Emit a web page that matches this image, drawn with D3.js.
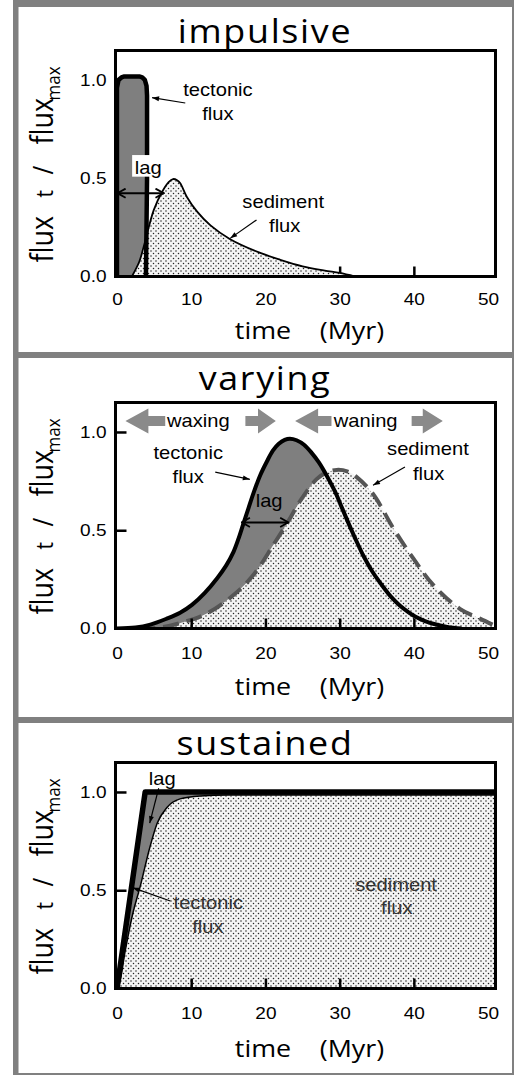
<!DOCTYPE html>
<html><head><meta charset="utf-8">
<script src="https://cdn.jsdelivr.net/npm/d3@7"></script>
<style>
html,body{margin:0;padding:0;background:#fff;}
svg{display:block;}
</style></head><body>
<script>
// ---------------- DATA ----------------
const panelTitles = ["impulsive", "varying", "sustained"];
const xTicks = [0, 10, 20, 30, 40, 50];
const yTicks = [0, 0.5, 1.0];
const yTickLabels = ["0.0", "0.5", "1.0"];
const xAxisTitle = ["time", "(Myr)"];

// impulsive
const impTectonicT = [0, 0, 0.2, 0.6, 1.0, 2.0, 3.0, 3.4, 3.75, 3.98, 4.05, 4.05, 3.9];
const impTectonicV = [0, 0.96, 1.0, 1.013, 1.018, 1.018, 1.018, 1.013, 1.0, 0.97, 0.92, 0.5, 0];
const impSedimentT = [2.0, 3.0, 3.6, 4.95, 6.07, 6.96, 7.55, 8.1, 8.53, 9.4, 10.8, 12.6, 15.25, 19.3, 22, 25, 28, 30, 32.1];
const impSedimentV = [0, 0.075, 0.152, 0.338, 0.43, 0.48, 0.496, 0.49, 0.474, 0.406, 0.33, 0.26, 0.19, 0.12, 0.085, 0.052, 0.03, 0.018, 0];

// varying
const varTectonicT = [0, 2.5, 4.5, 6.7, 8.5, 10.1, 11.8, 13.5, 14.7, 15.7, 16.4, 17.0, 17.7, 18.4, 19.3, 20.2, 21.0, 21.8, 22.6, 23.3,
  24.2, 25.2, 26.2, 27.2, 28.3, 29.4, 30.3, 31.2, 32.2, 33.2, 34.4, 35.9, 37.0, 38.1, 39.2, 40.3, 41.5, 42.6, 44.5, 46.4];
const varTectonicV = [0, 0.005, 0.02, 0.05, 0.08, 0.12, 0.18, 0.256, 0.32, 0.39, 0.46, 0.53, 0.61, 0.69, 0.78, 0.85, 0.905, 0.94, 0.96, 0.966,
  0.958, 0.935, 0.895, 0.845, 0.775, 0.695, 0.615, 0.535, 0.45, 0.37, 0.29, 0.21, 0.158, 0.117, 0.085, 0.058, 0.038, 0.024, 0.008, 0];
const varSedimentT = [3, 5.8, 9.0, 12.1, 15.7, 18.4, 21.1, 23.1, 24.7, 26.9, 28.3, 29.6, 31, 32.3, 34.5, 37.2, 39.9, 42.6, 46.2, 48.9, 50.6];
const varSedimentV = [0, 0.005, 0.033, 0.076, 0.17, 0.273, 0.427, 0.547, 0.65, 0.76, 0.795, 0.807, 0.8, 0.77, 0.684, 0.512, 0.358, 0.222, 0.10, 0.05, 0.02];

// sustained
const susTectonicT = [0, 3.8, 51];
const susTectonicV = [0, 1.0, 1.0];
const susSedimentT = [0, 0.3, 1.1, 2.0, 3.2, 4.3, 5.4, 6.7, 8.5, 11.2, 15, 51];
const susSedimentV = [0, 0.02, 0.19, 0.36, 0.53, 0.70, 0.84, 0.92, 0.965, 0.98, 0.985, 0.985];

const phaseLabels = ["waxing", "waning"];

// ---------------- LAYOUT ----------------
const W = 514, H = 1075;
const plotLeft = 115.5, plotRight = 495.5, plotH = 226;
const panelTops = [50.5, 402.5, 762.5];
const titleBase = [43, 390, 755];
const xlabBase = [339, 695, 1057];
const tickPads = [16, 18, 18];
const ticksOnTop = [false, true, true];
const STRETCH = 1.12;
const sans = "'Liberation Sans', Arial, Helvetica, sans-serif";
const human = "'Open Sans', 'Noto Sans', sans-serif";

const zip = (a, b) => a.map((d, i) => [d, b[i]]);

const svg = d3.select("body").append("svg").attr("width", W).attr("height", H);
const defs = svg.append("defs");
const pat = defs.append("pattern").attr("id", "dots").attr("width", 5).attr("height", 5)
  .attr("patternUnits", "userSpaceOnUse");
pat.append("rect").attr("width", 5).attr("height", 5).attr("fill", "#f4f4f4");
pat.append("circle").attr("cx", 1).attr("cy", 1).attr("r", 0.75).attr("fill", "#222");
pat.append("circle").attr("cx", 3.5).attr("cy", 3.5).attr("r", 0.75).attr("fill", "#222");

defs.append("marker").attr("id", "ptr").attr("viewBox", "0 -5 10 10").attr("refX", 10).attr("refY", 0)
  .attr("markerWidth", 9).attr("markerHeight", 7).attr("markerUnits", "userSpaceOnUse").attr("orient", "auto")
  .append("path").attr("d", "M0,-3.5L10,0L0,3.5Z").attr("fill", "#000");
defs.append("marker").attr("id", "chev").attr("viewBox", "-1 -6 12 12").attr("refX", 10).attr("refY", 0)
  .attr("markerWidth", 11).attr("markerHeight", 11).attr("markerUnits", "userSpaceOnUse").attr("orient", "auto-start-reverse")
  .append("path").attr("d", "M1,-5L10,0L1,5").attr("fill", "none").attr("stroke", "#000").attr("stroke-width", 2);

// frame
const gray = "#808080";
svg.append("rect").attr("x", 13).attr("y", 0).attr("width", W - 13).attr("height", 7).attr("fill", gray);
svg.append("rect").attr("x", 13).attr("y", 0).attr("width", 5.5).attr("height", H).attr("fill", gray);
svg.append("rect").attr("x", 512).attr("y", 0).attr("width", 2).attr("height", H).attr("fill", gray);
svg.append("rect").attr("x", 13).attr("y", 352).attr("width", W - 13).attr("height", 6).attr("fill", gray);
svg.append("rect").attr("x", 13).attr("y", 717).attr("width", W - 13).attr("height", 6).attr("fill", gray);
svg.append("rect").attr("x", 13).attr("y", 1073).attr("width", W - 13).attr("height", 2).attr("fill", gray);

const x = d3.scaleLinear().domain([-0.2, 51]).range([plotLeft, plotRight]);

function stext(g, px, py, txt, size, family, anchor, fill) {
  return g.append("text")
    .attr("transform", `translate(${px},${py}) scale(${STRETCH},1)`)
    .attr("text-anchor", anchor || "middle")
    .style("font-family", family || sans)
    .style("font-size", size + "px")
    .attr("fill", fill || "#000")
    .text(txt);
}

function pointer(g, y, t1, v1, t2, v2) {
  g.append("line").attr("x1", x(t1)).attr("y1", y(v1)).attr("x2", x(t2)).attr("y2", y(v2))
    .attr("stroke", "#000").attr("stroke-width", 1.2).attr("marker-end", "url(#ptr)");
}
function lagArrow(g, y, t1, t2, v) {
  g.append("line").attr("x1", x(t1)).attr("y1", y(v)).attr("x2", x(t2)).attr("y2", y(v))
    .attr("stroke", "#000").attr("stroke-width", 2)
    .attr("marker-start", "url(#chev)").attr("marker-end", "url(#chev)");
}

function drawPanel(i, tecT, tecV, sedT, sedV, opts) {
  const top = panelTops[i], bottom = top + plotH;
  const y = d3.scaleLinear().domain([0, 1.15]).range([bottom, top]);
  const g = svg.append("g");
  const cid = "clip" + i;
  defs.append("clipPath").attr("id", cid).append("rect")
    .attr("x", plotLeft).attr("y", top).attr("width", plotRight - plotLeft).attr("height", plotH);

  // title
  stext(g, 265, titleBase[i], panelTitles[i], 32, human).style("letter-spacing", "1.5px");

  // axes
  const axG = g.append("g");
  const yAx = d3.axisLeft(y).tickValues(yTicks).tickSize(-11).tickPadding(8)
    .tickFormat((d, k) => yTickLabels[k]);
  const xAx = d3.axisBottom(x).tickValues(xTicks).tickSize(-10).tickPadding(tickPads[i]);
  const ya = axG.append("g").attr("transform", `translate(${plotLeft},0)`).call(yAx);
  const xa = axG.append("g").attr("transform", `translate(0,${bottom})`).call(xAx);
  [ya, xa].forEach(a => {
    a.select(".domain").remove();
    a.selectAll("line").attr("stroke", "#000").attr("stroke-width", 2.5);
    a.selectAll("text").style("font-family", sans).style("font-size", "17px").attr("fill", "#000")
      .attr("transform", `scale(${STRETCH},1)`);
  });
  xa.selectAll(".tick line").filter(d => d === 0 || d === 50).remove();
  ya.selectAll(".tick line").filter(d => d === 0).remove();

  // axis titles
  stext(g, 263, xlabBase[i], xAxisTitle[0], 24, human);
  stext(g, 352, xlabBase[i], xAxisTitle[1], 24, human);
  const cy = (top + bottom) / 2;
  const yl = g.append("g").attr("transform", `translate(53,${cy}) scale(${STRETCH},1) rotate(-90)`)
    .style("font-family", human);
  [["flux", -99, 0, 27], ["t", -34, 0, 21], ["/", -11, 0, 24], ["flux", 19, 0, 27], ["max", 63, 6, 17]]
    .forEach(p => yl.append("text").attr("x", p[1]).attr("y", p[2]).style("font-size", p[3] + "px").text(p[0]));

  // data
  const dg = g.append("g").attr("clip-path", `url(#${cid})`);
  const tec = zip(tecT, tecV), sed = zip(sedT, sedV);
  const area = c => d3.area().x(d => x(d[0])).y0(y(0)).y1(d => y(d[1])).curve(c);
  const line = c => d3.line().x(d => x(d[0])).y(d => y(d[1])).curve(c);
  dg.append("path").attr("d", area(opts.tecCurve)(tec)).attr("fill", "#7f7f7f");
  dg.append("path").attr("d", area(opts.sedCurve)(sed)).attr("fill", "url(#dots)");
  const sl = dg.append("path").attr("d", line(opts.sedCurve)(sed)).attr("fill", "none")
    .attr("stroke", opts.sedColor).attr("stroke-width", opts.sedWidth).attr("stroke-linejoin", "round");
  if (opts.sedDash) sl.attr("stroke-dasharray", opts.sedDash);
  dg.append("path").attr("d", line(opts.tecCurve)(tec)).attr("fill", "none")
    .attr("stroke", "#000").attr("stroke-width", opts.tecWidth).attr("stroke-linejoin", "round");

  if (ticksOnTop[i]) g.node().appendChild(axG.node());

  // plot box
  g.append("rect").attr("x", plotLeft).attr("y", top).attr("width", plotRight - plotLeft).attr("height", plotH)
    .attr("fill", "none").attr("stroke", "#000").attr("stroke-width", 3);

  opts.annotate(g, y);
}

// impulsive
drawPanel(0, impTectonicT, impTectonicV, impSedimentT, impSedimentV, {
  tecCurve: d3.curveLinear, sedCurve: d3.curveCatmullRom.alpha(0.5), tecWidth: 4.5, sedColor: "#000", sedWidth: 1.8,
  annotate: (g, y) => {
    g.append("rect").attr("x", x(2.04)).attr("y", y(0.618)).attr("width", x(6.29) - x(2.04))
      .attr("height", y(0.508) - y(0.618)).attr("fill", "#fff");
    stext(g, x(4.2), y(0.52), "lag", 18);
    lagArrow(g, y, 0.05, 6.3, 0.424);
    stext(g, x(13.6), y(0.919), "tectonic", 18);
    stext(g, x(13.6), y(0.796), "flux", 18);
    pointer(g, y, 9.2, 0.883, 4.73, 0.91);
    stext(g, x(22.4), y(0.347), "sediment", 18);
    stext(g, x(22.6), y(0.228), "flux", 18);
    pointer(g, y, 18.8, 0.288, 15.25, 0.194);
  }
});

// varying
drawPanel(1, varTectonicT, varTectonicV, varSedimentT, varSedimentV, {
  tecCurve: d3.curveCatmullRom.alpha(0.5), sedCurve: d3.curveCatmullRom.alpha(0.5), tecWidth: 4, sedColor: "#555", sedWidth: 4, sedDash: "16,8",
  annotate: (g, y) => {
    stext(g, x(20.5), y(0.618), "lag", 18);
    lagArrow(g, y, 16.8, 23.1, 0.54);
    stext(g, x(9.6), y(0.865), "tectonic", 18);
    stext(g, x(9.6), y(0.738), "flux", 18);
    pointer(g, y, 13.24, 0.796, 17.9, 0.759);
    stext(g, x(41.9), y(0.881), "sediment", 18);
    stext(g, x(42.0), y(0.754), "flux", 18);
    pointer(g, y, 38.8, 0.822, 34.5, 0.729);
    const vc = y(1.056), hh = 12.5, bh = 5;
    const specs = [[1.14, 4.23, 6.5, 17.3, 19.0, 21.4, 10.95], [24.0, 27.1, 28.9, 39.7, 41.2, 43.9, 33.5]];
    specs.forEach((s, k) => {
      const [tip, hb, be, rs, rhb, rtip, tc] = s.map(x);
      g.append("path").attr("fill", "#8a8a8a").attr("d",
        `M${tip},${vc}L${hb},${vc - hh}L${hb},${vc - bh}L${be},${vc - bh}L${be},${vc + bh}L${hb},${vc + bh}L${hb},${vc + hh}Z`);
      g.append("path").attr("fill", "#8a8a8a").attr("d",
        `M${rtip},${vc}L${rhb},${vc - hh}L${rhb},${vc - bh}L${rs},${vc - bh}L${rs},${vc + bh}L${rhb},${vc + bh}L${rhb},${vc + hh}Z`);
      stext(g, tc, vc + 6.5, phaseLabels[k], 18);
    });
  }
});

// sustained
drawPanel(2, susTectonicT, susTectonicV, susSedimentT, susSedimentV, {
  tecCurve: d3.curveLinear, sedCurve: d3.curveMonotoneX, tecWidth: 5.5, sedColor: "#000", sedWidth: 1.5,
  annotate: (g, y) => {
    stext(g, x(6.1), y(1.038), "lag", 18);
    pointer(g, y, 5.62, 1.019, 4.41, 0.841);
    stext(g, x(12.3), y(0.403), "tectonic", 18, null, null, "#333");
    stext(g, x(12.25), y(0.284), "flux", 18, null, null, "#333");
    pointer(g, y, 7.19, 0.445, 2.1, 0.513);
    stext(g, x(37.6), y(0.496), "sediment", 18, null, null, "#333");
    stext(g, x(37.7), y(0.377), "flux", 18, null, null, "#333");
  }
});
</script>
</body></html>
